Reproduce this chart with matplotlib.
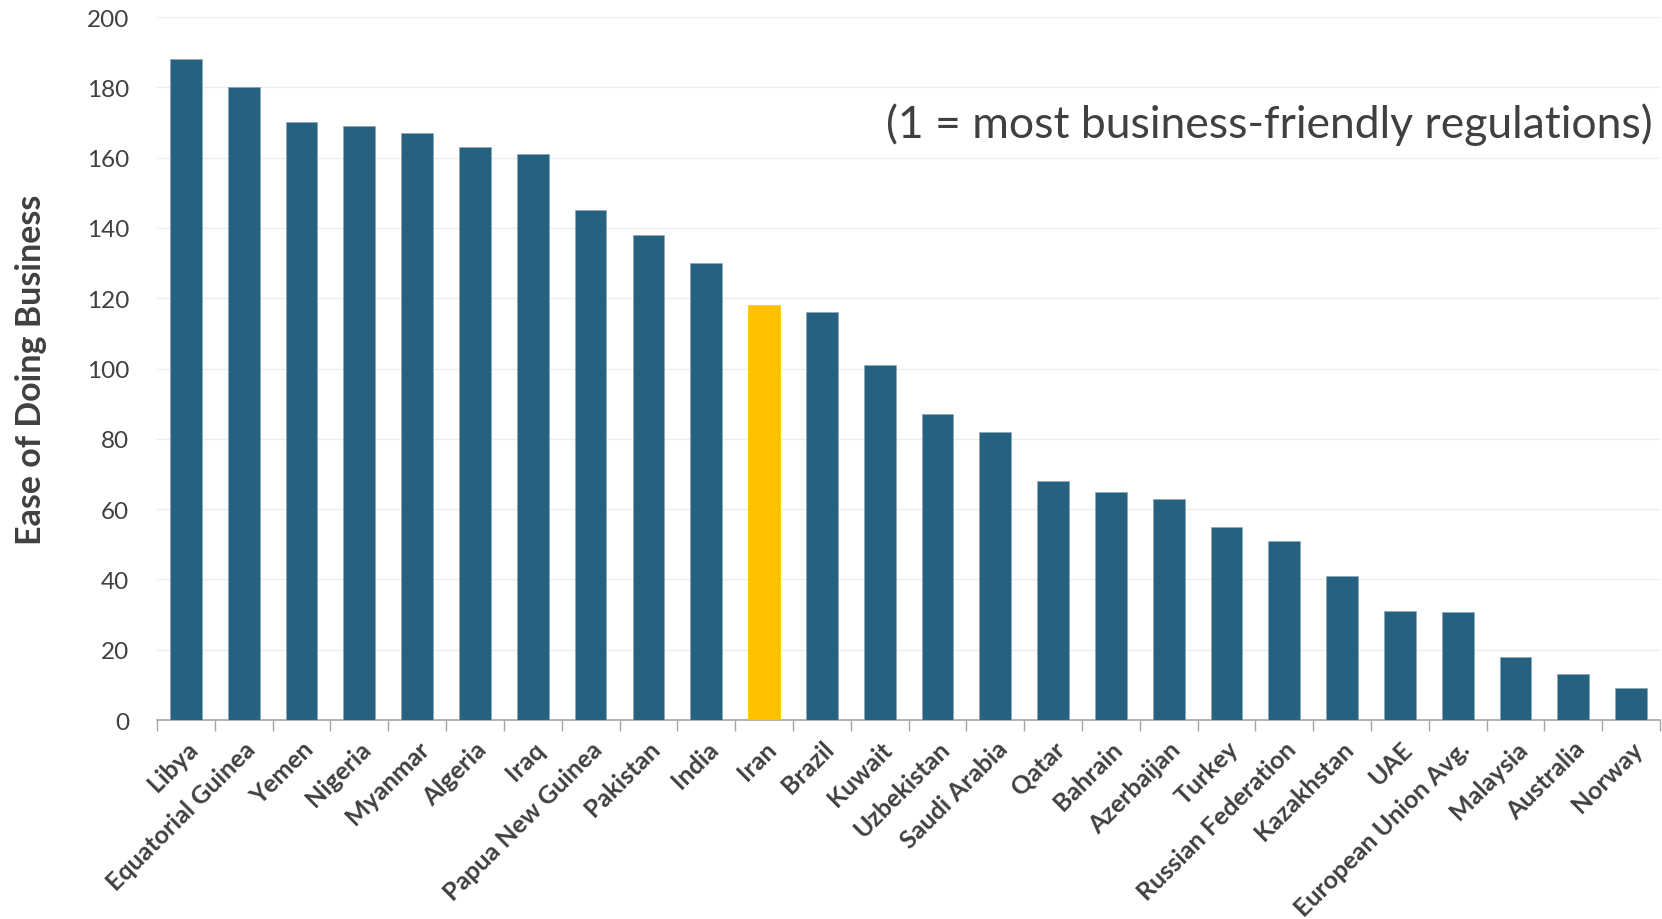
import matplotlib.pyplot as plt
import numpy as np

countries = ['Libya', 'Equatorial Guinea', 'Yemen', 'Nigeria', 'Myanmar',
             'Algeria', 'Iraq', 'Papua New Guinea', 'Pakistan', 'India',
             'Iran', 'Brazil', 'Kuwait', 'Uzbekistan', 'Saudi Arabia',
             'Qatar', 'Bahrain', 'Azerbaijan', 'Turkey', 'Russian Federation',
             'Kazakhstan', 'UAE', 'European Union Avg.', 'Malaysia',
             'Australia', 'Norway']
ranks = [188, 180, 170, 169, 167, 163, 161, 145, 138, 130,
         118, 116, 101, 87, 82, 68, 65, 63, 55, 51,
         41, 31, 30.7, 18, 13, 9]
highlight = 'Iran'
yticks = [0, 20, 40, 60, 80, 100, 120, 140, 160, 180, 200]

plt.rcParams['font.family'] = ['Lato', 'DejaVu Sans']

def plot():
    fig = plt.figure(figsize=(16.62, 9.2), dpi=100)
    ax = fig.add_axes([0.0945, 0.2163, 0.9043, 0.7641])

    x = np.arange(len(countries))
    colors = ['#FFC000' if c == highlight else '#26617F' for c in countries]
    edges = ['#FFC000' if c == highlight else '#8aa6b9' for c in countries]
    ax.bar(x, ranks, width=0.55, color=colors, edgecolor=edges,
           linewidth=0.5, zorder=3)

    ax.set_xlim(-0.5, len(countries) - 0.5)
    ax.set_ylim(0, 200)
    ax.set_yticks(yticks)
    ax.yaxis.grid(True, color='#EDEDED', linewidth=1, zorder=0)
    ax.tick_params(axis='y', length=0, labelsize=17.5, labelcolor='#404040', pad=20)

    ax.set_xticks(x)
    ax.set_xticklabels(countries, rotation=45, ha='right', va='top',
                       rotation_mode='anchor', fontsize=18, fontweight='bold',
                       color='#404040')
    ax.set_xticks(np.arange(len(countries) + 1) - 0.5, minor=True)
    ax.tick_params(axis='x', which='major', length=0, pad=12)
    ax.tick_params(axis='x', which='minor', length=8, color='#A6A6A6', width=1)

    for side in ['top', 'right', 'left']:
        ax.spines[side].set_visible(False)
    ax.spines['bottom'].set_color('#A6A6A6')
    ax.spines['bottom'].set_linewidth(1.2)

    ax.set_ylabel('Ease of Doing Business', fontsize=24.5, fontweight='bold',
                  color='#404040', labelpad=29)

    ax.text(0.995, 0.848, '(1 = most business-friendly regulations)',
            transform=ax.transAxes, ha='right', va='center', fontsize=32,
            color='#404040')

    plt.savefig('out.png', dpi=100)

if __name__ == '__main__':
    plot()
